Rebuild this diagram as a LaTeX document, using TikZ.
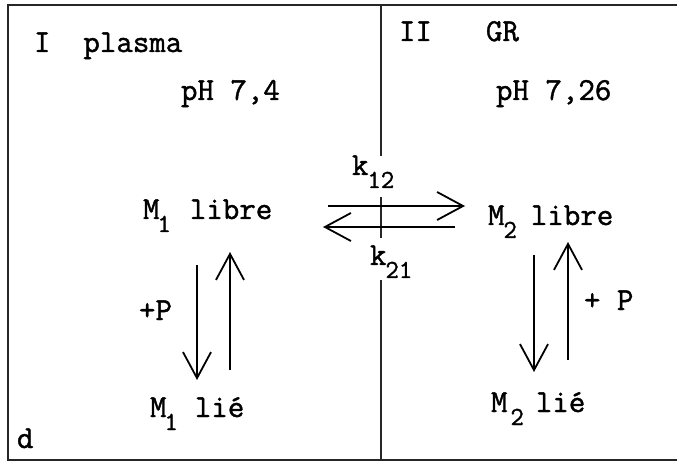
\documentclass[tikz,border=0pt]{standalone}
\usepackage{fontspec}
\usetikzlibrary{arrows.meta}
\newfontfamily\twfont[FakeBold=1.3]{Latin Modern Mono}
\newcommand{\mainsz}{\fontsize{32}{36}\selectfont\twfont}
\newcommand{\subsz}{\fontsize{26}{28}\selectfont\twfont}
\newcommand{\lowsub}[1]{\raisebox{-13pt}{\subsz #1}}
\tikzset{
  lbl/.style={anchor=base west, inner sep=0pt, outer sep=0pt, font=\mainsz},
  frameline/.style={line width=1.8pt, draw=black!85},
  arr/.style={line width=1.8pt, -{Straight Barb[length=26pt, width=28pt, line width=1.8pt]}},
}
\begin{document}
\begin{tikzpicture}[x=1pt, y=-1pt]
\useasboundingbox (0,0) rectangle (677,462);
\fill[white] (0,0) rectangle (677,462);
% frame
\draw[frameline] (677,5) -- (8,5) -- (8,460) -- (677,460);
% divider
\coordinate (dv0) at (381,5);
\coordinate (dv1) at (381,156);
\coordinate (dv2) at (381,197);
\coordinate (dv3) at (381,238);
\coordinate (dv4) at (381,280);
\coordinate (dv5) at (381,460);
\draw[frameline] (dv0) -- (dv1);
\draw[frameline] (dv2) -- (dv3);
\draw[frameline] (dv4) -- (dv5);
% labels
\node[lbl] (tI) at (34,52) {I\ \ plasma};
\node[lbl] (ph1) at (181,100) {pH 7,4};
\node[lbl] (tII) at (399,41) {II};
\node[lbl] (gr) at (486,41) {GR};
\node[lbl] (ph2) at (496,100) {pH 7,26};
\node[lbl] (m1l) at (143,219) {M\hspace{-2pt}\lowsub{1}\hspace{19pt}libre};
\node[lbl] (m1d) at (150,417) {M\hspace{-2pt}\lowsub{1}\hspace{17pt}lié};
\node[lbl] (m2l) at (488,225) {M\hspace{-1pt}\lowsub{2}\hspace{14pt}libre};
\node[lbl] (m2d) at (491,412) {M\hspace{3pt}\lowsub{2}\hspace{12pt}lié};
\node[lbl] (p1) at (139,320) {+P};
\node[lbl] (p2) at (584,310) {+\ P};
\node[lbl] (k12) at (352,175) {k\hspace{-1pt}\lowsub{12}};
\node[lbl] (k21) at (370,265) {k\hspace{-1pt}\lowsub{21}};
\node[lbl] (d) at (17,448) {d};
% horizontal arrows
\coordinate (h1a) at (328,206);
\coordinate (h1b) at (465,206);
\coordinate (h2a) at (455,227);
\coordinate (h2b) at (323,227);
\draw[arr] (h1a) -- (h1b);
\draw[arr] (h2a) -- (h2b);
% vertical arrows left
\coordinate (l1a) at (197,265);
\coordinate (l1b) at (197,380);
\coordinate (l2a) at (230,370);
\coordinate (l2b) at (230,252);
\draw[arr] (l1a) -- (l1b);
\draw[arr] (l2a) -- (l2b);
% vertical arrows right
\coordinate (r1a) at (534,255);
\coordinate (r1b) at (534,372);
\coordinate (r2a) at (568,360);
\coordinate (r2b) at (568,242);
\draw[arr] (r1a) -- (r1b);
\draw[arr] (r2a) -- (r2b);
\end{tikzpicture}
\end{document}
